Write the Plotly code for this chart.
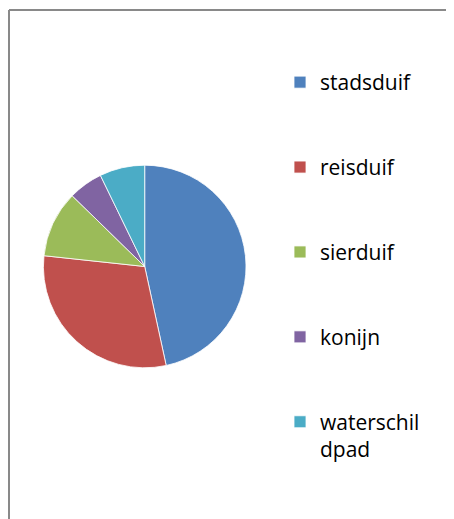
import plotly.graph_objects as go

# Daten
labels = ["stadsduif", "reisduif", "sierduif", "konijn", "waterschil<br>dpad"]
values = [46.6, 30.1, 10.6, 5.5, 7.2]
colors = ["#4F81BD", "#C0504D", "#9BBB59", "#8064A2", "#4BACC6"]

# Seite hat 8px Rand links/oben -> Figur reicht genau bis zum Fensterrand
W, H = 446, 511
BORDER = "#898989"


def _legend_label(label: str) -> str:
    """Leere Zeilen als Abstand zwischen den Legenden-Eintraegen."""
    lines = label.split("<br>")
    while len(lines) < 3:
        lines.append("\u00a0")
    return "<br>".join(lines)


def _px(x, y):
    """Pixel (von oben links) -> Paper-Koordinaten."""
    return x / W, 1 - y / H


legend_labels = [_legend_label(lab) for lab in labels]

# Kreis: Mitte (136.7, 258.5), Radius 101.3 Pixel
cx, cy, r = 136.7, 258.5, 101.3
x0, y1 = _px(cx - r, cy - r)
x1, y0 = _px(cx + r, cy + r)

fig = go.Figure(go.Pie(
    labels=legend_labels,
    values=values,
    sort=False,
    direction="clockwise",
    rotation=0,
    textinfo="none",
    marker=dict(colors=colors, line=dict(color="#FFFFFF", width=0.8)),
    domain=dict(x=[x0, x1], y=[y0, y1]),
    hovertemplate="%{value}<extra></extra>",
))

lx, ly = _px(272, 54)
bx, by = _px(1, 2)

fig.update_layout(
    width=W,
    height=H,
    margin=dict(l=0, r=0, t=0, b=0),
    paper_bgcolor="#FFFFFF",
    plot_bgcolor="#FFFFFF",
    font=dict(family="Open Sans", size=21, color="#000000"),
    legend=dict(
        x=lx, xanchor="left",
        y=ly, yanchor="top",
        valign="top",
        bgcolor="rgba(0,0,0,0)",
        borderwidth=0,
    ),
    # Rahmen des Diagrammbereichs: nur links und oben sichtbar
    shapes=[
        dict(type="line", xref="paper", yref="paper",
             x0=bx, x1=bx, y0=-0.1, y1=by,
             line=dict(color=BORDER, width=2)),
        dict(type="line", xref="paper", yref="paper",
             x0=bx, x1=1.1, y0=by, y1=by,
             line=dict(color=BORDER, width=2)),
    ],
)

fig.write_html("out.html")
